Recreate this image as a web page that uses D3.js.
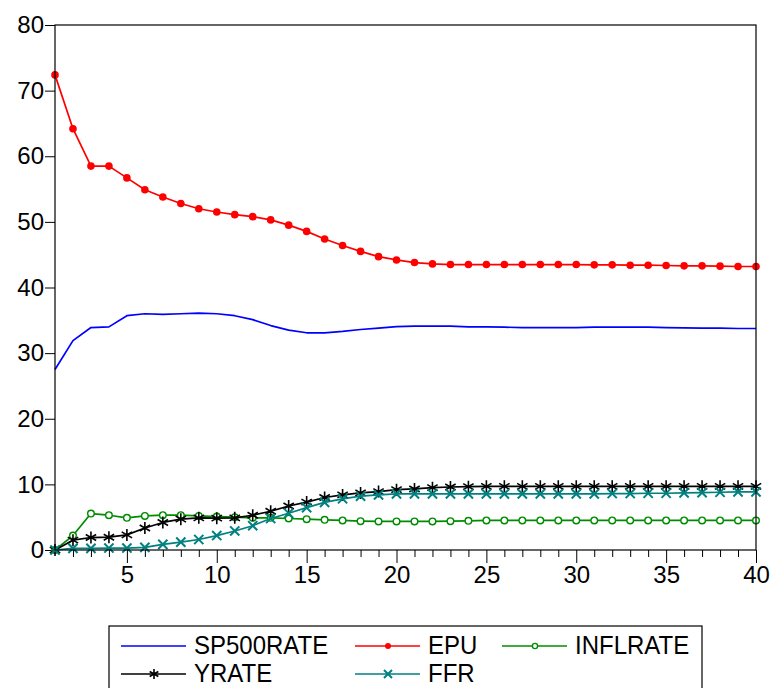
<!DOCTYPE html>
<html>
<head>
<meta charset="utf-8">
<script src="https://cdn.jsdelivr.net/npm/d3@7"></script>
<style>
  body { margin: 0; background: #fff; }
  svg { display: block; }
  text { font-family: "Liberation Sans", Arial, sans-serif; fill: #000; }
</style>
</head>
<body>
<svg id="chart" width="771" height="688"></svg>
<script>
// Response horizon (periods)
const periods = [1, 2, 3, 4, 5, 6, 7, 8, 9, 10, 11, 12, 13, 14, 15, 16, 17, 18, 19, 20,
                 21, 22, 23, 24, 25, 26, 27, 28, 29, 30, 31, 32, 33, 34, 35, 36, 37, 38, 39, 40];

const sp500rate = [27.5, 31.9, 33.9, 34.0, 35.7, 36.0, 35.9, 36.0, 36.1, 36.0,
                   35.7, 35.1, 34.2, 33.5, 33.1, 33.1, 33.3, 33.6, 33.8, 34.05,
                   34.1, 34.1, 34.1, 34.0, 34.0, 33.95, 33.9, 33.9, 33.9, 33.9,
                   33.95, 33.95, 33.95, 33.95, 33.9, 33.85, 33.8, 33.8, 33.75, 33.75];

const epu = [72.4, 64.2, 58.5, 58.5, 56.7, 54.9, 53.8, 52.8, 52.0, 51.5,
             51.1, 50.8, 50.3, 49.5, 48.55, 47.4, 46.4, 45.5, 44.7, 44.2,
             43.8, 43.6, 43.5, 43.5, 43.5, 43.5, 43.5, 43.5, 43.5, 43.5,
             43.45, 43.45, 43.4, 43.4, 43.35, 43.3, 43.3, 43.25, 43.2, 43.2];

const inflrate = [0, 2.2, 5.55, 5.3, 4.9, 5.2, 5.3, 5.3, 5.2, 5.1,
                  5.0, 4.9, 4.9, 4.8, 4.7, 4.6, 4.5, 4.4, 4.35, 4.35,
                  4.35, 4.35, 4.4, 4.45, 4.5, 4.5, 4.5, 4.5, 4.5, 4.5,
                  4.5, 4.5, 4.5, 4.5, 4.5, 4.5, 4.5, 4.5, 4.5, 4.5];

const yrate = [0, 1.5, 1.9, 1.95, 2.3, 3.35, 4.2, 4.7, 4.9, 4.85,
               4.9, 5.3, 5.9, 6.7, 7.3, 8.0, 8.4, 8.7, 8.9, 9.2,
               9.3, 9.5, 9.6, 9.65, 9.7, 9.7, 9.7, 9.7, 9.7, 9.7,
               9.7, 9.7, 9.7, 9.7, 9.7, 9.7, 9.7, 9.7, 9.7, 9.7];

const ffr = [0, 0.25, 0.25, 0.3, 0.3, 0.4, 0.85, 1.2, 1.6, 2.2,
             2.9, 3.7, 4.8, 5.6, 6.45, 7.25, 7.8, 8.2, 8.4, 8.55,
             8.55, 8.55, 8.55, 8.55, 8.55, 8.55, 8.55, 8.55, 8.55, 8.55,
             8.55, 8.6, 8.6, 8.65, 8.65, 8.7, 8.75, 8.8, 8.85, 8.85];

const yTickValues = [0, 10, 20, 30, 40, 50, 60, 70, 80];
const xTickValues = [5, 10, 15, 20, 25, 30, 35, 40];

const seriesNames = ["SP500RATE", "EPU", "INFLRATE", "YRATE", "FFR"];
const seriesColors = ["#0000ff", "#ff0000", "#008c00", "#000000", "#008080"];
const seriesMarkers = ["none", "dot", "ring", "star", "cross"];
const seriesValues = [sp500rate, epu, inflrate, yrate, ffr];

// Layout
const plot = { left: 55, right: 756, top: 25, bottom: 550 };
const svg = d3.select("#chart");

const x = d3.scaleLinear().domain([1, 40]).range([plot.left, plot.right]);
const y = d3.scaleLinear().domain([0, 80]).range([plot.bottom, plot.top]);

// Y axis
const yAxis = svg.append("g")
  .attr("transform", `translate(${plot.left},0)`)
  .call(d3.axisLeft(y).tickValues(yTickValues).tickSize(10).tickPadding(1).tickFormat(d3.format("d")));
yAxis.select(".domain").remove();
yAxis.selectAll("line").attr("stroke", "#000");
yAxis.selectAll("text").style("font-size", "24px").attr("fill", "#000");

// X axis: minor ticks at every period, major ticks with labels
const minorTicks = periods.filter(p => p > 1 && p % 5 !== 0);
const xMinor = svg.append("g")
  .attr("transform", `translate(0,${plot.bottom})`)
  .call(d3.axisBottom(x).tickValues(minorTicks).tickSize(7).tickFormat(""));
xMinor.select(".domain").remove();
xMinor.selectAll("line").attr("stroke", "#000");

const xAxis = svg.append("g")
  .attr("transform", `translate(0,${plot.bottom})`)
  .call(d3.axisBottom(x).tickValues(xTickValues).tickSize(13).tickPadding(3).tickFormat(d3.format("d")));
xAxis.select(".domain").remove();
xAxis.selectAll("line").attr("stroke", "#000");
xAxis.selectAll("text").style("font-size", "24px").attr("fill", "#000");

// Marker shapes
function drawMarker(g, kind, color, size) {
  if (kind === "dot") {
    g.append("circle").attr("r", size).attr("fill", color).attr("stroke", "none");
  } else if (kind === "ring") {
    g.append("circle").attr("r", size).attr("fill", "#fff").attr("stroke", color).attr("stroke-width", 1.4);
  } else if (kind === "star") {
    const s = size;
    const a = s * Math.cos(Math.PI / 6), b = s * Math.sin(Math.PI / 6);
    g.append("path")
      .attr("d", `M0,${-s}L0,${s}M${-a},${-b}L${a},${b}M${-a},${b}L${a},${-b}`)
      .attr("stroke", color).attr("stroke-width", 1.6).attr("fill", "none");
  } else if (kind === "cross") {
    const s = size;
    g.append("path")
      .attr("d", `M${-s},${-s}L${s},${s}M${-s},${s}L${s},${-s}`)
      .attr("stroke", color).attr("stroke-width", 2).attr("fill", "none");
  }
}

const markerSize = { dot: 3.8, ring: 3.3, star: 6, cross: 4.6 };

// Series lines and markers
const line = d3.line().x((d, i) => x(periods[i])).y(d => y(d));
const plotArea = svg.append("g");
seriesValues.forEach((vals, si) => {
  const g = plotArea.append("g");
  g.append("path")
    .datum(vals)
    .attr("d", line)
    .attr("fill", "none")
    .attr("stroke", seriesColors[si])
    .attr("stroke-width", 1.7)
    .attr("stroke-linejoin", "round");
  if (seriesMarkers[si] !== "none") {
    g.selectAll("g.mk")
      .data(vals)
      .join("g")
      .attr("class", "mk")
      .attr("transform", (d, i) => `translate(${x(periods[i])},${y(d)})`)
      .each(function () { drawMarker(d3.select(this), seriesMarkers[si], seriesColors[si], markerSize[seriesMarkers[si]]); });
  }
});

// Frame
svg.append("rect")
  .attr("x", plot.left).attr("y", plot.top)
  .attr("width", plot.right - plot.left).attr("height", plot.bottom - plot.top)
  .attr("fill", "none").attr("stroke", "#000").attr("stroke-width", 1.2);

// Legend
const legend = svg.append("g");
legend.append("rect")
  .attr("x", 109).attr("y", 626).attr("width", 593).attr("height", 80)
  .attr("fill", "#fff").attr("stroke", "#000").attr("stroke-width", 1.2);

const legendCols = [121, 355, 502];
const legendRows = [646, 674];
const legendSmall = { dot: 3, ring: 2.6, star: 5, cross: 4 };
seriesNames.forEach((name, si) => {
  const col = si % 3, row = Math.floor(si / 3);
  const x0 = legendCols[col], yy = legendRows[row];
  const item = legend.append("g");
  item.append("line")
    .attr("x1", x0).attr("x2", x0 + 65).attr("y1", yy).attr("y2", yy)
    .attr("stroke", seriesColors[si]).attr("stroke-width", 1.6);
  if (seriesMarkers[si] !== "none") {
    const mg = item.append("g").attr("transform", `translate(${x0 + 33},${yy})`);
    drawMarker(mg, seriesMarkers[si], seriesColors[si], legendSmall[seriesMarkers[si]]);
  }
  item.append("text")
    .attr("transform", `translate(${x0 + 73},${yy + 8}) scale(1,1.08)`)
    .style("font-size", "24px")
    .text(name);
});
</script>
</body>
</html>
